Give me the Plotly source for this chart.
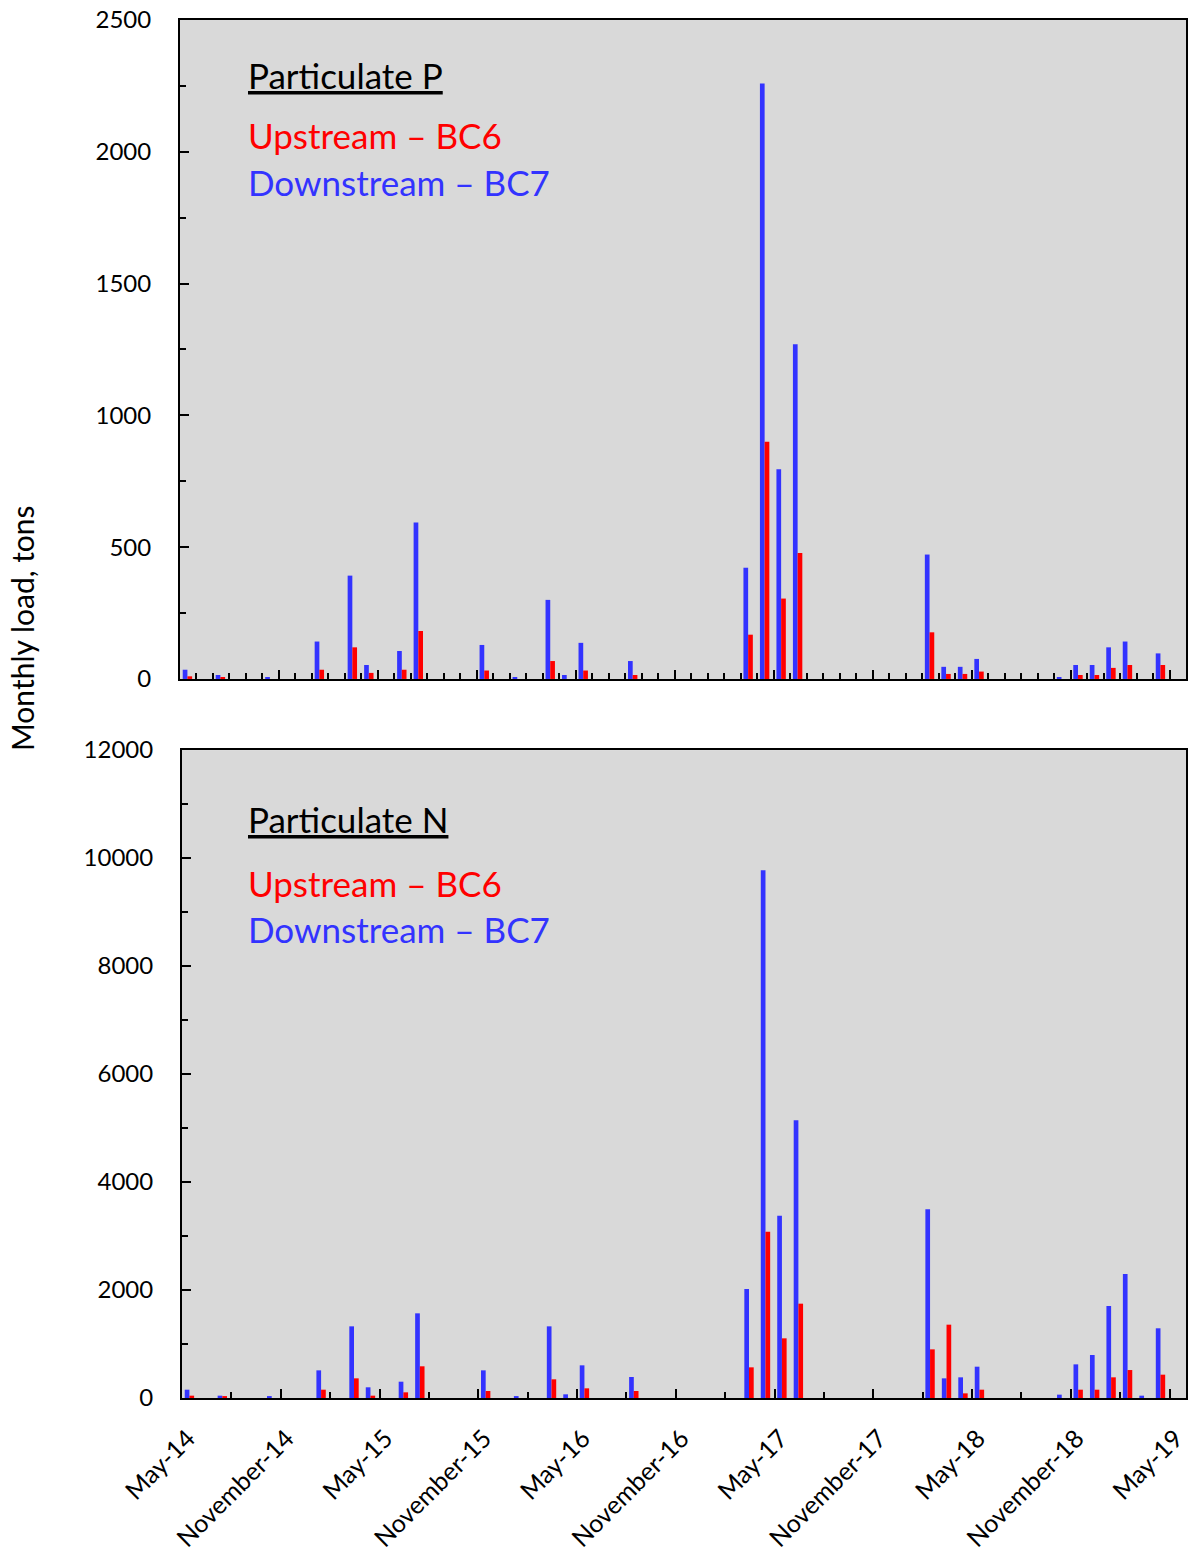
import plotly.graph_objects as go
import pandas as pd

# ---- data (61 months, May-2014 .. May-2019) ----
month_labels = [d.strftime("%B-%y") if d.month == 11 else d.strftime("%b-%y")
                for d in pd.date_range("2014-05-01", "2019-05-01", freq="MS")]
label_every = 6

# Particulate P, tons
p_bc7 = [35, 0, 15, 0, 0, 5, 0, 0, 142, 0, 392, 53, 0, 106, 594, 0, 0, 0, 129, 0,
         5, 0, 300, 15, 137, 0, 0, 68, 0, 0, 0, 0, 0, 0, 422, 2259, 796, 1270, 0, 0,
         0, 0, 0, 0, 0, 472, 46, 46, 76, 0, 0, 0, 0, 5, 53, 53, 120, 142, 0, 97, 0]
p_bc6 = [10, 0, 5, 0, 0, 0, 0, 0, 35, 0, 120, 23, 0, 35, 182, 0, 0, 0, 32, 0,
         0, 0, 68, 0, 32, 0, 0, 15, 0, 0, 0, 0, 0, 0, 168, 900, 305, 478, 0, 0,
         0, 0, 0, 0, 0, 177, 19, 19, 28, 0, 0, 0, 0, 0, 15, 15, 42, 53, 0, 53, 0]

# Particulate N, tons
n_bc7 = [154, 0, 43, 0, 0, 25, 0, 0, 512, 0, 1327, 198, 0, 302, 1568, 0, 0, 0, 512, 0,
         25, 0, 1327, 68, 605, 0, 0, 389, 0, 0, 0, 0, 0, 0, 2019, 9772, 3376, 5143, 0, 0,
         0, 0, 0, 0, 0, 3495, 364, 383, 580, 0, 0, 0, 0, 62, 623, 796, 1704, 2297, 43, 1291, 0]
n_bc6 = [43, 0, 25, 0, 0, 0, 0, 0, 154, 0, 364, 43, 0, 105, 587, 0, 0, 0, 130, 0,
         0, 0, 346, 0, 179, 0, 0, 130, 0, 0, 0, 0, 0, 0, 568, 3080, 1105, 1747, 0, 0,
         0, 0, 0, 0, 0, 901, 1358, 86, 154, 0, 0, 0, 0, 0, 154, 154, 383, 518, 0, 432, 0]

BLUE = "#3333FF"
RED = "#FF0000"
FONT = "Lato"

n = len(month_labels)
xpos = [i + 0.45 for i in range(n)]
tickvals = list(range(0, n, label_every))
ticktext = [month_labels[i] for i in tickvals]

fig = go.Figure()
fig.add_trace(go.Bar(x=xpos, y=p_bc7, marker_color=BLUE, marker_line_width=0,
                     xaxis="x", yaxis="y", offsetgroup="a", showlegend=False))
fig.add_trace(go.Bar(x=xpos, y=p_bc6, marker_color=RED, marker_line_width=0,
                     xaxis="x", yaxis="y", offsetgroup="b", showlegend=False))
fig.add_trace(go.Bar(x=xpos, y=n_bc7, marker_color=BLUE, marker_line_width=0,
                     xaxis="x2", yaxis="y2", offsetgroup="a", showlegend=False))
fig.add_trace(go.Bar(x=xpos, y=n_bc6, marker_color=RED, marker_line_width=0,
                     xaxis="x2", yaxis="y2", offsetgroup="b", showlegend=False))

axis_common = dict(showline=True, linecolor="black", linewidth=2, mirror=True,
                   showgrid=False, zeroline=False, ticks="inside", tickcolor="black",
                   tickwidth=2, automargin=False)

fig.update_layout(
    width=1188, height=1554,
    margin=dict(l=180, r=2, t=20, b=156),
    paper_bgcolor="white",
    plot_bgcolor="#D9D9D9",
    barmode="group", bargap=0.43, bargroupgap=0,
    font=dict(family=FONT, color="black"),
    xaxis=dict(domain=[0, 1], anchor="y", range=[0, n], tickvals=tickvals,
               showticklabels=False, ticklen=9,
               minor=dict(tickvals=list(range(n)), ticks="inside", ticklen=6,
                          tickwidth=2, tickcolor="black", showgrid=False),
               **axis_common),
    yaxis=dict(domain=[0.5218, 1], anchor="x", range=[0, 2500], dtick=500,
               tickformat="d",
               ticklen=9, tickfont=dict(size=24), ticklabelstandoff=22,
               minor=dict(dtick=250, ticks="inside", ticklen=6, tickwidth=2,
                          tickcolor="black", showgrid=False),
               **axis_common),
    xaxis2=dict(domain=[0.002, 1], anchor="y2", range=[0, n], tickvals=tickvals,
                ticktext=ticktext, tickangle=-45, tickfont=dict(size=25),
                ticklen=9, ticklabelshift=6, ticklabelstandoff=14,
                ticklabeloverflow="allow",
                minor=dict(tickvals=list(range(0, n, 3)), ticks="inside", ticklen=6,
                           tickwidth=2, tickcolor="black", showgrid=False),
                **axis_common),
    yaxis2=dict(domain=[0, 0.4702], anchor="x2", range=[0, 12000], dtick=2000,
                tickformat="d",
                ticklen=9, tickfont=dict(size=24), ticklabelstandoff=22,
                minor=dict(dtick=1000, ticks="inside", ticklen=6, tickwidth=2,
                           tickcolor="black", showgrid=False),
                **axis_common),
)

def add_labels(xref, yref, title, ys, xd):
    fig.add_annotation(xref=xref, yref=yref, x=xd, y=ys[0], text="<u>" + title + "</u>",
                       showarrow=False, xanchor="left", yanchor="middle",
                       font=dict(family=FONT, size=35, color="black"))
    fig.add_annotation(xref=xref, yref=yref, x=xd, y=ys[1], text="Upstream – BC6",
                       showarrow=False, xanchor="left", yanchor="middle",
                       font=dict(family=FONT, size=35, color=RED))
    fig.add_annotation(xref=xref, yref=yref, x=xd, y=ys[2], text="Downstream – BC7",
                       showarrow=False, xanchor="left", yanchor="middle",
                       font=dict(family=FONT, size=35, color=BLUE))

add_labels("x domain", "y domain", "Particulate P", [0.9165, 0.8255, 0.754], 0.066)
add_labels("x2 domain", "y2 domain", "Particulate N", [0.8935, 0.7948, 0.7238], 0.064)

fig.add_annotation(xref="paper", yref="paper", x=-0.157, y=0.5588,
                   text="Monthly load, tons", textangle=-90, showarrow=False,
                   xanchor="center", yanchor="middle",
                   font=dict(family=FONT, size=30, color="black"))

fig.write_html("out.html", config={"displayModeBar": False},
               post_script="document.body.style.margin='0';document.body.style.overflow='hidden';")
